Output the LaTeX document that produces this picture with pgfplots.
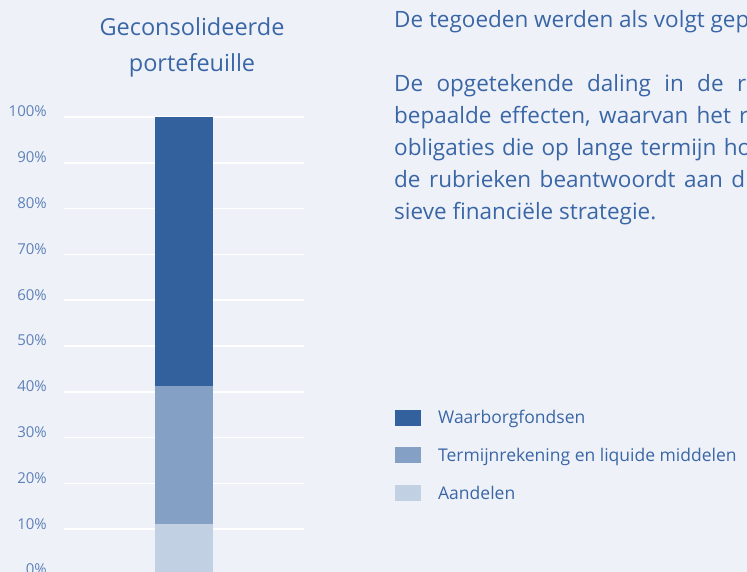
\documentclass[border=0pt]{standalone}
\usepackage{pgfplots}
\pgfplotsset{compat=1.18}
\usepackage{fontspec}
\setmainfont{Open Sans}
\definecolor{bg}{HTML}{EEF2F8}
\definecolor{txt}{HTML}{3A66A6}
\definecolor{tickc}{HTML}{5E81B8}
\definecolor{cdark}{HTML}{33619E}
\definecolor{cmid}{HTML}{84A1C5}
\definecolor{clight}{HTML}{C1D0E3}

\begin{document}
\begin{tikzpicture}[x=1pt,y=1pt]
\path[use as bounding box] (0,0) rectangle (747,572);
\clip (0,0) rectangle (747,572);
\fill[bg] (0,0) rectangle (747,572);

\begin{axis}[
    at={(64pt,-3pt)}, anchor=south west,
    scale only axis, width=240pt, height=458pt,
    xmin=-1, xmax=1, ymin=0, ymax=100,
    axis line style={draw=none},
    major tick length=0pt,
    xtick=\empty,
    ytick={0,10,...,100},
    /pgf/number format/assume math mode=true,
    yticklabel={\pgfmathprintnumber{\tick}\%},
    yticklabel style={anchor=base east, inner sep=0pt, xshift=-17pt,
        font=\fontsize{15}{15}\selectfont, text=tickc},
    ymajorgrids=true,
    grid style={draw=white, line width=1.5pt},
    ybar stacked, bar width=58pt,
    reverse legend,
    legend cell align=left,
    legend image code/.code={\fill[#1] (0pt,-8pt) rectangle (26pt,8pt);},
    legend style={at={(1.379,0.3646)}, anchor=north west, draw=none, fill=none,
        inner sep=0pt, row sep=19pt, column sep=15pt, text=txt,
        font=\fontsize{17.5}{17.5}\selectfont},
]
\addplot[fill=clight, draw=none] coordinates {(0,11.2)};
\addplot[fill=cmid, draw=none] coordinates {(0,30.1)};
\addplot[fill=cdark, draw=none] coordinates {(0,58.7)};
\legend{Aandelen, Termijnrekening en liquide middelen, Waarborgfondsen}
\end{axis}

\node[font=\fontsize{23.5}{36}\selectfont, text=txt, align=center] at (192,525)
    {Geconsolideerde\\portefeuille};

\begin{scope}[every node/.style={anchor=base west, inner sep=0pt, text=txt,
        font=\fontsize{22.5}{32}\selectfont}]
\node at (394,544) {De tegoeden werden als volgt geplaatst:};
\node at (394,480) {\makebox[352pt][s]{De opgetekende daling in de r}};
\node at (394,448) {\makebox[354pt][s]{bepaalde effecten, waarvan het r}};
\node at (394,416) {\makebox[357pt][s]{obligaties die op lange termijn ho}};
\node at (394,384) {\makebox[351pt][s]{de rubrieken beantwoordt aan d}};
\node at (394,352) {sieve financiële strategie.};
\end{scope}
\end{tikzpicture}
\end{document}
